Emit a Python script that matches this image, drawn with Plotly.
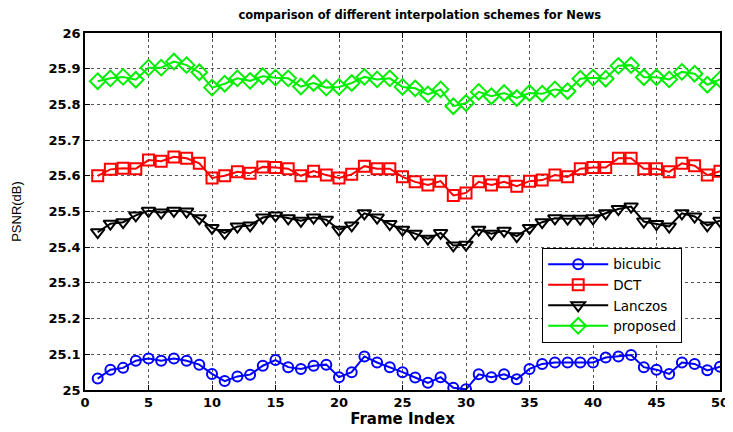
import plotly.graph_objects as go

frames = list(range(1, 51))

bicubic = [25.032, 25.057, 25.062, 25.082, 25.088, 25.082, 25.088, 25.082, 25.071, 25.045,
           25.025, 25.038, 25.043, 25.068, 25.084, 25.064, 25.059, 25.068, 25.071, 25.036,
           25.050, 25.094, 25.077, 25.064, 25.050, 25.035, 25.020, 25.036, 25.006, 25.002,
           25.044, 25.036, 25.044, 25.030, 25.059, 25.073, 25.077, 25.077, 25.077, 25.077,
           25.091, 25.094, 25.098, 25.064, 25.057, 25.045, 25.077, 25.073, 25.055, 25.065]

dct = [25.600, 25.618, 25.621, 25.620, 25.644, 25.641, 25.653, 25.649, 25.635, 25.594,
       25.600, 25.611, 25.607, 25.625, 25.623, 25.620, 25.600, 25.613, 25.602, 25.594,
       25.604, 25.627, 25.620, 25.620, 25.597, 25.583, 25.574, 25.585, 25.545, 25.552,
       25.583, 25.574, 25.583, 25.571, 25.585, 25.588, 25.602, 25.597, 25.620, 25.623,
       25.623, 25.649, 25.649, 25.620, 25.620, 25.611, 25.635, 25.628, 25.602, 25.613]

lanczos = [25.442, 25.466, 25.470, 25.489, 25.502, 25.497, 25.502, 25.500, 25.481, 25.454,
           25.440, 25.458, 25.461, 25.483, 25.489, 25.481, 25.474, 25.483, 25.477, 25.449,
           25.461, 25.495, 25.483, 25.465, 25.449, 25.438, 25.424, 25.440, 25.405, 25.407,
           25.449, 25.438, 25.446, 25.431, 25.454, 25.470, 25.481, 25.480, 25.480, 25.481,
           25.495, 25.507, 25.514, 25.472, 25.465, 25.458, 25.495, 25.486, 25.461, 25.474]

proposed = [25.865, 25.873, 25.877, 25.869, 25.903, 25.903, 25.920, 25.910, 25.890, 25.847,
            25.858, 25.873, 25.866, 25.879, 25.875, 25.873, 25.850, 25.860, 25.847, 25.849,
            25.860, 25.877, 25.870, 25.873, 25.849, 25.845, 25.828, 25.842, 25.795, 25.804,
            25.835, 25.823, 25.832, 25.818, 25.832, 25.830, 25.842, 25.837, 25.872, 25.875,
            25.872, 25.908, 25.910, 25.876, 25.876, 25.870, 25.891, 25.886, 25.855, 25.870]

x_ticks = [0, 5, 10, 15, 20, 25, 30, 35, 40, 45, 50]
y_ticks = [25, 25.1, 25.2, 25.3, 25.4, 25.5, 25.6, 25.7, 25.8, 25.9, 26]
y_tick_labels = ["25", "25.1", "25.2", "25.3", "25.4", "25.5", "25.6", "25.7", "25.8", "25.9", "26"]

series = [
    ("bicubic", bicubic, "#0000ff", "circle-open", 10),
    ("DCT", dct, "#ff0000", "square-open", 11),
    ("Lanczos", lanczos, "#000000", "triangle-down-open", 12),
    ("proposed", proposed, "#00ee00", "diamond-open", 12),
]

fig = go.Figure()
for name, vals, color, sym, size in series:
    fig.add_trace(go.Scatter(
        x=frames, y=vals, name=name, mode="lines+markers",
        line=dict(color=color, width=2),
        marker=dict(symbol=sym, size=size, color=color, line=dict(color=color, width=2)),
    ))

tick_font = dict(family="DejaVu Sans, sans-serif", size=13, color="black", weight="bold")
xt_font = dict(family="DejaVu Sans, sans-serif", size=15, color="black", weight="bold")

# page body has an 8px margin, so the figure is sized to fill the remaining window
fig.update_layout(
    width=725, height=424,
    margin=dict(l=77, r=13, t=25, b=42),
    paper_bgcolor="white", plot_bgcolor="white",
    title=dict(text="comparison of different interpolation schemes for News",
               x=0.568, xanchor="center", y=0.983, yanchor="middle",
               font=dict(family="DejaVu Sans, sans-serif", size=11.5, color="black", weight="bold")),
    xaxis=dict(range=[0, 50], tickvals=x_ticks, ticks="inside", ticklen=5, tickcolor="black",
               showline=True, linecolor="black", linewidth=1.5, mirror="ticks",
               showgrid=True, gridcolor="#555555", griddash="dot", gridwidth=1,
               zeroline=False, tickfont=tick_font, automargin=False,
               title=dict(text="Frame Index", font=xt_font, standoff=0)),
    yaxis=dict(range=[25, 26], tickvals=y_ticks, ticktext=y_tick_labels, ticks="inside", ticklen=5,
               tickcolor="black",
               showline=True, linecolor="black", linewidth=1.5, mirror="ticks",
               showgrid=True, gridcolor="#555555", griddash="dot", gridwidth=1,
               zeroline=False, tickfont=tick_font, automargin=False,
               title=dict(text="PSNR(dB)", font=dict(family="Liberation Sans, Arial, sans-serif", size=13, color="black"), standoff=24)),
    legend=dict(x=0.72, y=0.398, xanchor="left", yanchor="top",
                bgcolor="white", bordercolor="black", borderwidth=1,
                font=dict(family="DejaVu Sans, sans-serif", size=13.5, color="black"),
                tracegroupgap=0, itemwidth=60),
    showlegend=True,
)

fig.write_html("out.html")
